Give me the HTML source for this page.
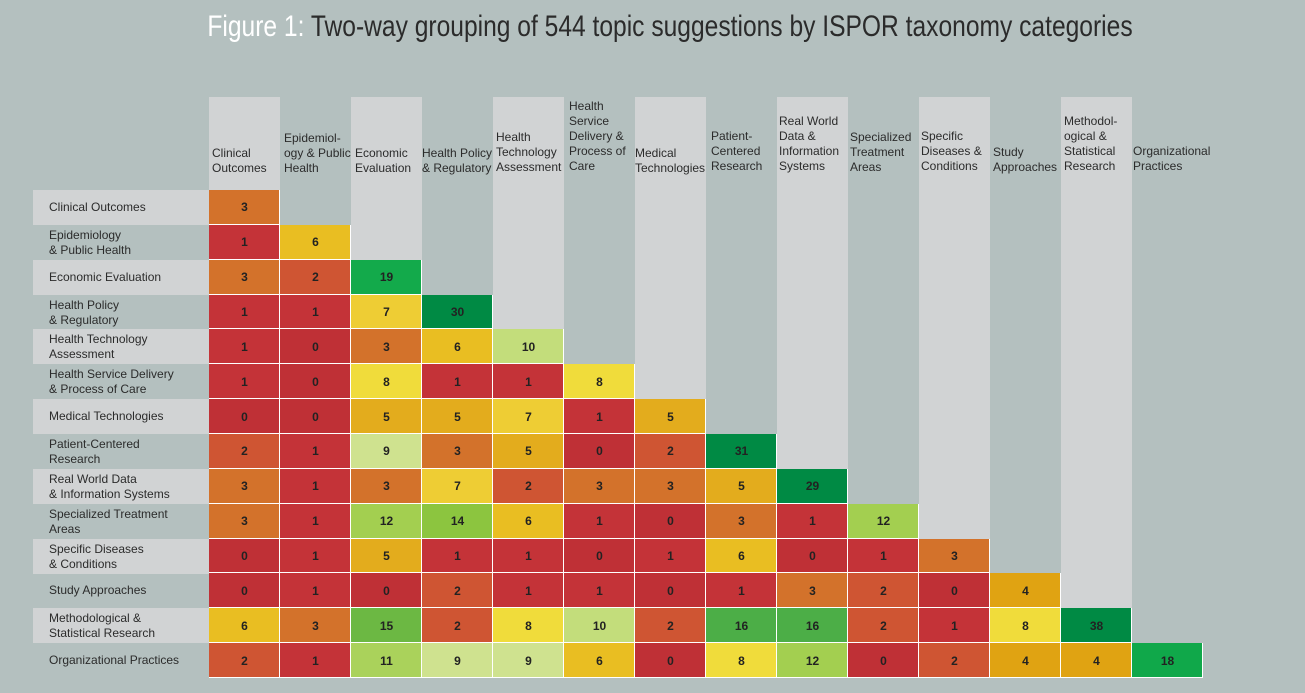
<!DOCTYPE html>
<html><head><meta charset="utf-8"><style>
body{margin:0;width:1305px;height:693px;background:#b4c0bf;position:relative;overflow:hidden;font-family:"Liberation Sans","DejaVu Sans",sans-serif;color:#2b2b2b}
.title{position:absolute;top:10px;left:0;width:1340px;text-align:center;font-size:30px;letter-spacing:0px;transform:scaleX(0.82);transform-origin:670px 0;color:#2b2b2b}
.title span{color:#fff}
.bar{position:absolute;top:97px;width:71px;background:#d1d3d4}
.hd{position:absolute;top:97px;height:79px;width:72px;display:flex;align-items:flex-end;font-size:12px;line-height:15px;padding-left:3px;box-sizing:border-box;white-space:nowrap}
.rl{position:absolute;left:33px;width:176px;height:35px;display:flex;align-items:center;padding-left:16px;box-sizing:border-box;font-size:12px;line-height:15px}
.g{background:#d1d3d4}
.grid{position:absolute;left:209px;top:190px;display:grid;grid-template-columns:repeat(14,71px);grid-template-rows:repeat(14,34.86px)}
.grid div{display:flex;align-items:center;justify-content:center;font-size:12px;font-weight:bold;color:#222;box-shadow:inset -1px -1px 0 #fff}
.grid .e{box-shadow:none}
.v0{background:#bf3036}.v1{background:#c43338}.v2{background:#cf5533}.v3{background:#d3722b}.v4{background:#e0a312}.v5{background:#e3ac1d}.v6{background:#e9be22}.v7{background:#eecd34}.v8{background:#f0dc3b}.v9{background:#cfe28f}.v10{background:#c3dd7b}.v11{background:#aad25b}.v12{background:#a3cf50}.v14{background:#8cc53f}.v15{background:#6cb843}.v16{background:#4cae47}.v18{background:#10a84a}.v19{background:#13aa4b}.vd{background:#008a44}
</style></head><body>
<div class="title"><span>Figure 1:</span> Two-way grouping of 544 topic suggestions by ISPOR taxonomy categories</div>

<div class="bar" style="left:209px;height:94px"></div>
<div class="bar" style="left:351px;height:163px"></div>
<div class="bar" style="left:493px;height:233px"></div>
<div class="bar" style="left:635px;height:303px"></div>
<div class="bar" style="left:777px;height:372px"></div>
<div class="bar" style="left:919px;height:442px"></div>
<div class="bar" style="left:1061px;height:511px"></div>

<div class="hd" style="left:209px">Clinical<br>Outcomes</div>
<div class="hd" style="left:281px">Epidemiol-<br>ogy &amp; Public<br>Health</div>
<div class="hd" style="left:352px">Economic<br>Evaluation</div>
<div class="hd" style="left:419px">Health Policy<br>&amp; Regulatory</div>
<div class="hd" style="left:493px;top:90px;height:85px">Health<br>Technology<br>Assessment</div>
<div class="hd" style="left:566px;top:90px;height:84px">Health<br>Service<br>Delivery &amp;<br>Process of<br>Care</div>
<div class="hd" style="left:632px;top:90px;height:86px">Medical<br>Technologies</div>
<div class="hd" style="left:708px;top:90px;height:84px">Patient-<br>Centered<br>Research</div>
<div class="hd" style="left:776px;top:90px;height:84px">Real World<br>Data &amp;<br>Information<br>Systems</div>
<div class="hd" style="left:847px;top:90px;height:85px">Specialized<br>Treatment<br>Areas</div>
<div class="hd" style="left:918px;top:90px;height:84px">Specific<br>Diseases &amp;<br>Conditions</div>
<div class="hd" style="left:990px;top:90px;height:85px">Study<br>Approaches</div>
<div class="hd" style="left:1061px;top:90px;height:84px">Methodol-<br>ogical &amp;<br>Statistical<br>Research</div>
<div class="hd" style="left:1130px;top:90px;height:84px">Organizational<br>Practices</div>

<div class="rl g" style="top:190px">Clinical Outcomes</div>
<div class="rl" style="top:225px">Epidemiology<br>&amp; Public Health</div>
<div class="rl g" style="top:260px">Economic Evaluation</div>
<div class="rl" style="top:295px">Health Policy<br>&amp; Regulatory</div>
<div class="rl g" style="top:329px">Health Technology<br>Assessment</div>
<div class="rl" style="top:364px">Health Service Delivery<br>&amp; Process of Care</div>
<div class="rl g" style="top:399px">Medical Technologies</div>
<div class="rl" style="top:434px">Patient-Centered<br>Research</div>
<div class="rl g" style="top:469px">Real World Data<br>&amp; Information Systems</div>
<div class="rl" style="top:504px">Specialized Treatment<br>Areas</div>
<div class="rl g" style="top:539px">Specific Diseases<br>&amp; Conditions</div>
<div class="rl" style="top:573px">Study Approaches</div>
<div class="rl g" style="top:608px">Methodological &amp;<br>Statistical Research</div>
<div class="rl" style="top:643px">Organizational Practices</div>

<div class="grid">
<div class="v3">3</div><div class="e"></div><div class="e"></div><div class="e"></div><div class="e"></div><div class="e"></div><div class="e"></div><div class="e"></div><div class="e"></div><div class="e"></div><div class="e"></div><div class="e"></div><div class="e"></div><div class="e"></div>
<div class="v1">1</div><div class="v6">6</div><div class="e"></div><div class="e"></div><div class="e"></div><div class="e"></div><div class="e"></div><div class="e"></div><div class="e"></div><div class="e"></div><div class="e"></div><div class="e"></div><div class="e"></div><div class="e"></div>
<div class="v3">3</div><div class="v2">2</div><div class="v19">19</div><div class="e"></div><div class="e"></div><div class="e"></div><div class="e"></div><div class="e"></div><div class="e"></div><div class="e"></div><div class="e"></div><div class="e"></div><div class="e"></div><div class="e"></div>
<div class="v1">1</div><div class="v1">1</div><div class="v7">7</div><div class="vd">30</div><div class="e"></div><div class="e"></div><div class="e"></div><div class="e"></div><div class="e"></div><div class="e"></div><div class="e"></div><div class="e"></div><div class="e"></div><div class="e"></div>
<div class="v1">1</div><div class="v0">0</div><div class="v3">3</div><div class="v6">6</div><div class="v10">10</div><div class="e"></div><div class="e"></div><div class="e"></div><div class="e"></div><div class="e"></div><div class="e"></div><div class="e"></div><div class="e"></div><div class="e"></div>
<div class="v1">1</div><div class="v0">0</div><div class="v8">8</div><div class="v1">1</div><div class="v1">1</div><div class="v8">8</div><div class="e"></div><div class="e"></div><div class="e"></div><div class="e"></div><div class="e"></div><div class="e"></div><div class="e"></div><div class="e"></div>
<div class="v0">0</div><div class="v0">0</div><div class="v5">5</div><div class="v5">5</div><div class="v7">7</div><div class="v1">1</div><div class="v5">5</div><div class="e"></div><div class="e"></div><div class="e"></div><div class="e"></div><div class="e"></div><div class="e"></div><div class="e"></div>
<div class="v2">2</div><div class="v1">1</div><div class="v9">9</div><div class="v3">3</div><div class="v5">5</div><div class="v0">0</div><div class="v2">2</div><div class="vd">31</div><div class="e"></div><div class="e"></div><div class="e"></div><div class="e"></div><div class="e"></div><div class="e"></div>
<div class="v3">3</div><div class="v1">1</div><div class="v3">3</div><div class="v7">7</div><div class="v2">2</div><div class="v3">3</div><div class="v3">3</div><div class="v5">5</div><div class="vd">29</div><div class="e"></div><div class="e"></div><div class="e"></div><div class="e"></div><div class="e"></div>
<div class="v3">3</div><div class="v1">1</div><div class="v12">12</div><div class="v14">14</div><div class="v6">6</div><div class="v1">1</div><div class="v0">0</div><div class="v3">3</div><div class="v1">1</div><div class="v12">12</div><div class="e"></div><div class="e"></div><div class="e"></div><div class="e"></div>
<div class="v0">0</div><div class="v1">1</div><div class="v5">5</div><div class="v1">1</div><div class="v1">1</div><div class="v0">0</div><div class="v1">1</div><div class="v6">6</div><div class="v0">0</div><div class="v1">1</div><div class="v3">3</div><div class="e"></div><div class="e"></div><div class="e"></div>
<div class="v0">0</div><div class="v1">1</div><div class="v0">0</div><div class="v2">2</div><div class="v1">1</div><div class="v1">1</div><div class="v0">0</div><div class="v1">1</div><div class="v3">3</div><div class="v2">2</div><div class="v0">0</div><div class="v4">4</div><div class="e"></div><div class="e"></div>
<div class="v6">6</div><div class="v3">3</div><div class="v15">15</div><div class="v2">2</div><div class="v8">8</div><div class="v10">10</div><div class="v2">2</div><div class="v16">16</div><div class="v16">16</div><div class="v2">2</div><div class="v1">1</div><div class="v8">8</div><div class="vd">38</div><div class="e"></div>
<div class="v2">2</div><div class="v1">1</div><div class="v11">11</div><div class="v9">9</div><div class="v9">9</div><div class="v6">6</div><div class="v0">0</div><div class="v8">8</div><div class="v12">12</div><div class="v0">0</div><div class="v2">2</div><div class="v4">4</div><div class="v4">4</div><div class="v18">18</div>
</div>
</body></html>
